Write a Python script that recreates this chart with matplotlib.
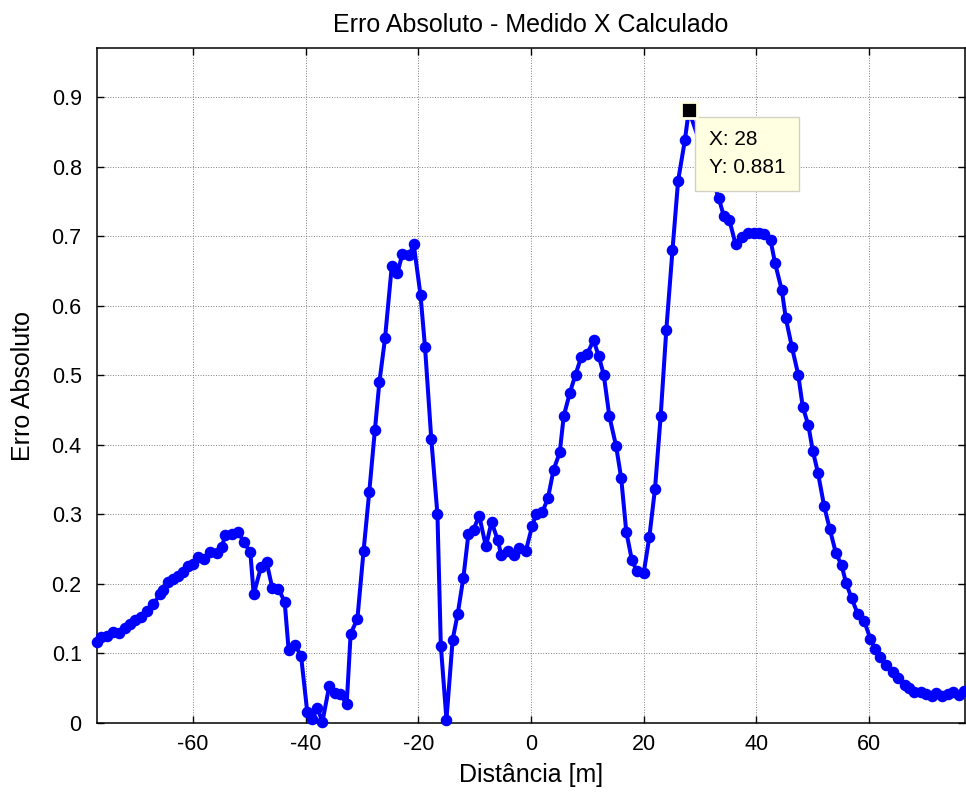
import matplotlib
matplotlib.use("Agg")
import matplotlib.pyplot as plt

plt.rcParams['font.family'] = ['Liberation Sans', 'DejaVu Sans']

# distancia ao longo do perfil [m]
distancia = [
    -77.0, -76.2, -75.2, -74.1, -73.1, -72.1, -71.2, -70.3, -69.2, -68.2,
    -67.0, -65.8, -65.2, -64.4, -63.5, -62.6, -61.7, -60.8, -59.9, -59.0,
    -58.1, -56.9, -55.7, -54.8, -54.3, -53.1, -51.9, -51.0, -49.8, -49.2,
    -47.9, -46.9, -45.9, -44.8, -43.7, -43.0, -41.9, -40.8, -39.7, -38.8,
    -37.9, -37.0, -35.8, -34.8, -33.8, -32.7, -32.0, -30.8, -29.7, -28.7,
    -27.7, -26.9, -25.9, -24.7, -23.7, -22.8, -21.6, -20.8, -19.6, -18.8,
    -17.7, -16.6, -16.0, -15.0, -13.9, -13.0, -12.0, -11.1, -10.2, -9.2,
    -8.0, -7.0, -5.9, -5.3, -4.1, -3.0, -2.1, -0.9, 0.2, 0.9,
    2.0, 3.0, 4.0, 5.1, 5.8, 6.9, 7.9, 8.9, 9.9, 11.1,
    12.0, 12.9, 13.9, 15.1, 16.0, 16.9, 17.9, 18.8, 20.0, 21.0,
    22.0, 23.0, 24.0, 25.1, 26.1, 27.3, 28.0, 33.3, 34.2, 35.2,
    36.3, 37.4, 38.5, 39.5, 40.4, 41.3, 42.5, 43.3, 44.5, 45.2,
    46.3, 47.4, 48.2, 49.2, 50.0, 50.9, 52.0, 53.0, 54.1, 55.1,
    55.9, 56.9, 58.0, 59.1, 60.2, 61.0, 62.0, 63.0, 64.2, 65.1,
    66.3, 67.1, 68.0, 69.2, 70.1, 71.1, 71.8, 72.9, 73.9, 74.9,
    76.0, 76.9,
]

# erro absoluto entre medido e calculado
erro = [
    0.116, 0.123, 0.125, 0.131, 0.130, 0.136, 0.142, 0.148, 0.152, 0.161,
    0.171, 0.185, 0.191, 0.203, 0.207, 0.212, 0.217, 0.225, 0.229, 0.238,
    0.236, 0.246, 0.245, 0.253, 0.270, 0.272, 0.275, 0.260, 0.246, 0.185,
    0.224, 0.231, 0.194, 0.193, 0.174, 0.105, 0.112, 0.097, 0.016, 0.006,
    0.021, 0.002, 0.053, 0.043, 0.041, 0.027, 0.128, 0.150, 0.248, 0.332,
    0.421, 0.490, 0.553, 0.657, 0.647, 0.675, 0.673, 0.688, 0.615, 0.540,
    0.409, 0.300, 0.111, 0.005, 0.120, 0.157, 0.209, 0.272, 0.278, 0.298,
    0.254, 0.289, 0.263, 0.242, 0.248, 0.242, 0.252, 0.248, 0.283, 0.300,
    0.303, 0.323, 0.364, 0.389, 0.441, 0.475, 0.501, 0.526, 0.530, 0.550,
    0.528, 0.501, 0.441, 0.398, 0.352, 0.275, 0.234, 0.218, 0.216, 0.268,
    0.337, 0.441, 0.565, 0.680, 0.780, 0.838, 0.881, 0.755, 0.729, 0.723,
    0.688, 0.699, 0.704, 0.705, 0.704, 0.703, 0.694, 0.661, 0.622, 0.582,
    0.540, 0.501, 0.455, 0.428, 0.391, 0.360, 0.312, 0.279, 0.244, 0.227,
    0.201, 0.179, 0.156, 0.147, 0.121, 0.107, 0.095, 0.084, 0.073, 0.064,
    0.055, 0.051, 0.044, 0.044, 0.042, 0.039, 0.043, 0.039, 0.041, 0.044,
    0.040, 0.046,
]

xticks = [-60, -40, -20, 0, 20, 40, 60]
yticks = [0, 0.1, 0.2, 0.3, 0.4, 0.5, 0.6, 0.7, 0.8, 0.9]

fig = plt.figure(figsize=(9.66, 7.93), dpi=100)
ax = fig.add_axes([0.1004, 0.0883, 0.8986, 0.8507])

ax.plot(distancia, erro, '-o', color='#0000FF', lw=2.9, ms=7.3, clip_on=False, zorder=3)

# data tip no ponto de maximo
i_max = erro.index(max(erro))
px, py = distancia[i_max], erro[i_max]
ax.plot(px, py, 's', color='black', ms=11.5, mec='#FFFFE1', mew=2, zorder=6, clip_on=False)
ax.annotate(f"X: {px:g}\nY: {py:.3f}", xy=(px, py), xytext=(20, -20),
            textcoords='offset pixels', ha='left', va='top', fontsize=15,
            linespacing=1.6,
            bbox=dict(boxstyle='square,pad=0.65', fc='#FFFFE1', ec='#D2D2C4', lw=1),
            zorder=5)

ax.set_xlim(-77, 77)
ax.set_ylim(0, 0.97)
ax.set_xticks(xticks)
ax.set_yticks(yticks)
ax.set_xticklabels([str(t) for t in xticks])
ax.set_yticklabels([f"{t:g}" for t in yticks])
ax.tick_params(axis='y', pad=11)
ax.tick_params(axis='x', pad=8)
ax.tick_params(direction='in', top=True, right=True, length=5, width=1,
               labelsize=15.5)
ax.grid(True, color='0.5', linestyle=':', lw=0.7)
for s in ax.spines.values():
    s.set_linewidth(1.1)

ax.set_title("Erro Absoluto - Medido X Calculado", fontsize=18, pad=12)
ax.set_xlabel("Distância [m]", fontsize=18, labelpad=6)
ax.set_ylabel("Erro Absoluto", fontsize=18, labelpad=12)

fig.savefig("out.png", dpi=100)
